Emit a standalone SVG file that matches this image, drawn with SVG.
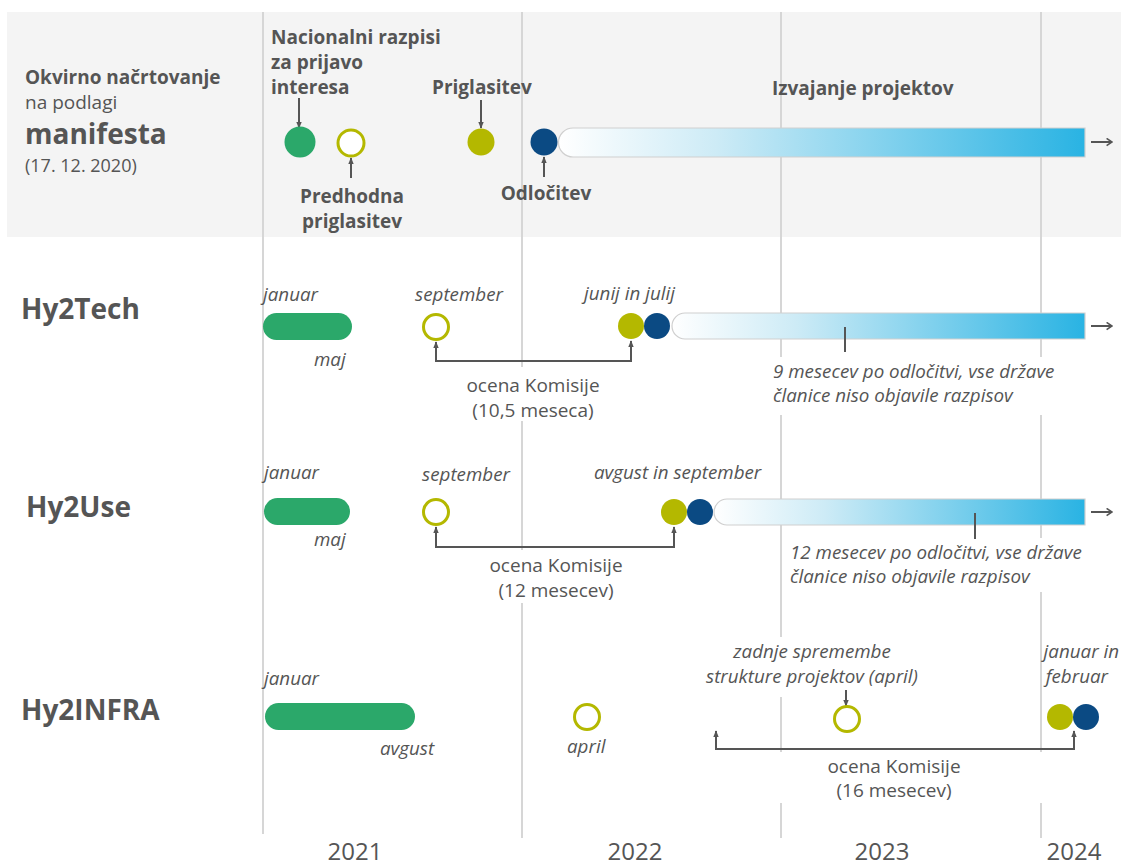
<svg xmlns="http://www.w3.org/2000/svg" width="1121" height="868" viewBox="0 0 1121 868">
<style>
text{font-family:"Open Sans","Liberation Sans",sans-serif;fill:#555}
.b{font-weight:700;font-size:19px}
.t{font-weight:700;font-size:28px}
.i{font-style:italic;font-size:18.8px}
.r{font-size:19px}
.y{font-size:24px}
.grid{stroke:#d6d6d6;stroke-width:2;fill:none}
.con{stroke:#555;stroke-width:2;fill:none}
.green{fill:#2ba86a}
.olive{fill:#b4b800}
.navy{fill:#0b4a83}
.hollow{fill:#fff;stroke:#b4b800;stroke-width:3}
.bar{fill:url(#gr);stroke:#cfcfcf;stroke-width:1.2}
.bg{fill:#fff}
</style>
<defs>
<linearGradient id="gr" x1="0" y1="0" x2="1" y2="0">
<stop offset="0" stop-color="#ffffff"/>
<stop offset="0.3" stop-color="#cdebf6"/>
<stop offset="1" stop-color="#29b3e3"/>
</linearGradient>
<marker id="ah" viewBox="0 0 10 10" refX="9" refY="5" markerWidth="7" markerHeight="7" markerUnits="userSpaceOnUse" orient="auto-start-reverse">
<path d="M0,1 L10,5 L0,9 z" fill="#555"/>
</marker>
<marker id="oh" viewBox="0 0 10 10" refX="9" refY="5" markerWidth="9" markerHeight="9" markerUnits="userSpaceOnUse" orient="auto">
<path d="M3,1 L9,5 L3,9" fill="none" stroke="#555" stroke-width="1.8"/>
</marker>
</defs>
<rect x="7" y="12" width="1114" height="225" fill="#f4f4f4"/>
<g id="grid">
<line class="grid" x1="263" y1="12" x2="263" y2="834"/>
<line class="grid" x1="522" y1="12" x2="522" y2="838"/>
<line class="grid" x1="781" y1="12" x2="781" y2="838"/>
<line class="grid" x1="1041" y1="12" x2="1041" y2="838"/>
</g>
<g id="label-bg">
<rect class="bg" x="460" y="367" width="150" height="54"/>
<rect class="bg" x="765" y="357" width="298" height="58"/>
<rect class="bg" x="490" y="550" width="134" height="53"/>
<rect class="bg" x="785" y="538" width="310" height="54"/>
<rect class="bg" x="705" y="637" width="218" height="60"/>
<rect class="bg" x="700" y="752" width="370" height="51"/>
</g>
<g id="connectors">
<path class="con" d="M299,98 V128" marker-end="url(#ah)"/>
<path class="con" d="M351,178 V158" marker-end="url(#ah)"/>
<path class="con" d="M481,100 V128" marker-end="url(#ah)"/>
<path class="con" d="M544,177 V157" marker-end="url(#ah)"/>
<path class="con" d="M1091,142 H1112" marker-end="url(#oh)"/>
<path class="con" d="M436,342 V361 H631 V341" marker-start="url(#ah)" marker-end="url(#ah)"/>
<path class="con" d="M1091,326 H1112" marker-end="url(#oh)"/>
<path class="con" d="M436,527 V547 H674 V527" marker-start="url(#ah)" marker-end="url(#ah)"/>
<path class="con" d="M1091,512 H1112" marker-end="url(#oh)"/>
<path class="con" d="M846,690 V706" marker-end="url(#ah)"/>
<path class="con" d="M716,731 V749 H1074 V731" marker-start="url(#ah)" marker-end="url(#ah)"/>
</g>
<g id="header">
<text class="b" x="25" y="84">Okvirno načrtovanje</text>
<text class="r" x="25" y="109">na podlagi</text>
<text class="t" x="25" y="144">manifesta</text>
<text x="25" y="172" style="font-size:18px">(17. 12. 2020)</text>
</g>
<g id="node-nacionalni">
<text class="b" x="271" y="44">Nacionalni razpisi</text>
<text class="b" x="271" y="69">za prijavo</text>
<text class="b" x="271" y="94">interesa</text>
<circle class="green" cx="300" cy="142" r="15.5"/>
</g>
<g id="node-predhodna">
<circle class="hollow" cx="351" cy="143" r="13"/>
<text class="b" x="352" y="203" text-anchor="middle">Predhodna</text>
<text class="b" x="352" y="228" text-anchor="middle">priglasitev</text>
</g>
<g id="node-priglasitev">
<text class="b" x="432" y="94">Priglasitev</text>
<circle class="olive" cx="481" cy="142" r="13.5"/>
</g>
<g id="node-odlocitev">
<circle class="navy" cx="544" cy="142" r="13.5"/>
<text class="b" x="546" y="200" text-anchor="middle">Odločitev</text>
</g>
<g id="node-izvajanje">
<path class="bar" d="M573,128 H1085 V157 H573 A14.5,14.5 0 0 1 573,128 Z"/>
<text class="b" x="772" y="95">Izvajanje projektov</text>
</g>
<g id="row-hy2tech">
<text class="t" x="21" y="319">Hy2Tech</text>
<text class="i" x="263" y="301">januar</text>
<rect class="green" x="263" y="313" width="89" height="27" rx="13.5"/>
<text class="i" x="314" y="366">maj</text>
<text class="i" x="459" y="301" text-anchor="middle">september</text>
<circle class="hollow" cx="436" cy="327" r="12.5"/>
<text class="r" x="533" y="392" text-anchor="middle">ocena Komisije</text>
<text class="r" x="533" y="417" text-anchor="middle">(10,5 meseca)</text>
<text class="i" x="584" y="300">junij in julij</text>
<circle class="olive" cx="631" cy="326" r="13"/>
<circle class="navy" cx="657" cy="326" r="13"/>
<path class="bar" d="M685,313 H1085 V339 H685 A13,13 0 0 1 685,313 Z"/>
<line class="con" x1="845" y1="327" x2="845" y2="352"/>
<text class="i" x="773" y="378">9 mesecev po odločitvi, vse države</text>
<text class="i" x="773" y="402">članice niso objavile razpisov</text>
</g>
<g id="row-hy2use">
<text class="t" x="26" y="517">Hy2Use</text>
<text class="i" x="264" y="479">januar</text>
<rect class="green" x="264" y="498" width="86" height="27" rx="13.5"/>
<text class="i" x="314" y="546">maj</text>
<text class="i" x="466" y="481" text-anchor="middle">september</text>
<circle class="hollow" cx="436" cy="512" r="12.5"/>
<text class="r" x="556" y="572" text-anchor="middle">ocena Komisije</text>
<text class="r" x="556" y="597" text-anchor="middle">(12 mesecev)</text>
<text class="i" x="594" y="479">avgust in september</text>
<circle class="olive" cx="674" cy="512" r="13"/>
<circle class="navy" cx="700" cy="512" r="13"/>
<path class="bar" d="M727,499 H1085 V525 H727 A13,13 0 0 1 727,499 Z"/>
<line class="con" x1="975" y1="513" x2="975" y2="539"/>
<text class="i" x="790" y="559">12 mesecev po odločitvi, vse države</text>
<text class="i" x="790" y="583">članice niso objavile razpisov</text>
</g>
<g id="row-hy2infra">
<text class="t" x="21" y="720">Hy2INFRA</text>
<text class="i" x="264" y="685">januar</text>
<rect class="green" x="265" y="703" width="150" height="27" rx="13.5"/>
<text class="i" x="380" y="755">avgust</text>
<circle class="hollow" cx="587" cy="717" r="12.5"/>
<text class="i" x="567" y="753">april</text>
<text class="i" x="812" y="658" text-anchor="middle">zadnje spremembe</text>
<text class="i" x="812" y="683" text-anchor="middle">strukture projektov (april)</text>
<circle class="hollow" cx="847" cy="719" r="12.5"/>
<text class="i" x="1119" y="658" text-anchor="end">januar in</text>
<text class="i" x="1108" y="683" text-anchor="end">februar</text>
<circle class="olive" cx="1060" cy="717" r="13"/>
<circle class="navy" cx="1086" cy="717" r="13"/>
<text class="r" x="894" y="773" text-anchor="middle">ocena Komisije</text>
<text class="r" x="894" y="797" text-anchor="middle">(16 mesecev)</text>
</g>
<g id="years">
<text class="y" x="355" y="860" text-anchor="middle">2021</text>
<text class="y" x="635" y="860" text-anchor="middle">2022</text>
<text class="y" x="882" y="860" text-anchor="middle">2023</text>
<text class="y" x="1074" y="860" text-anchor="middle">2024</text>
</g>
</svg>
